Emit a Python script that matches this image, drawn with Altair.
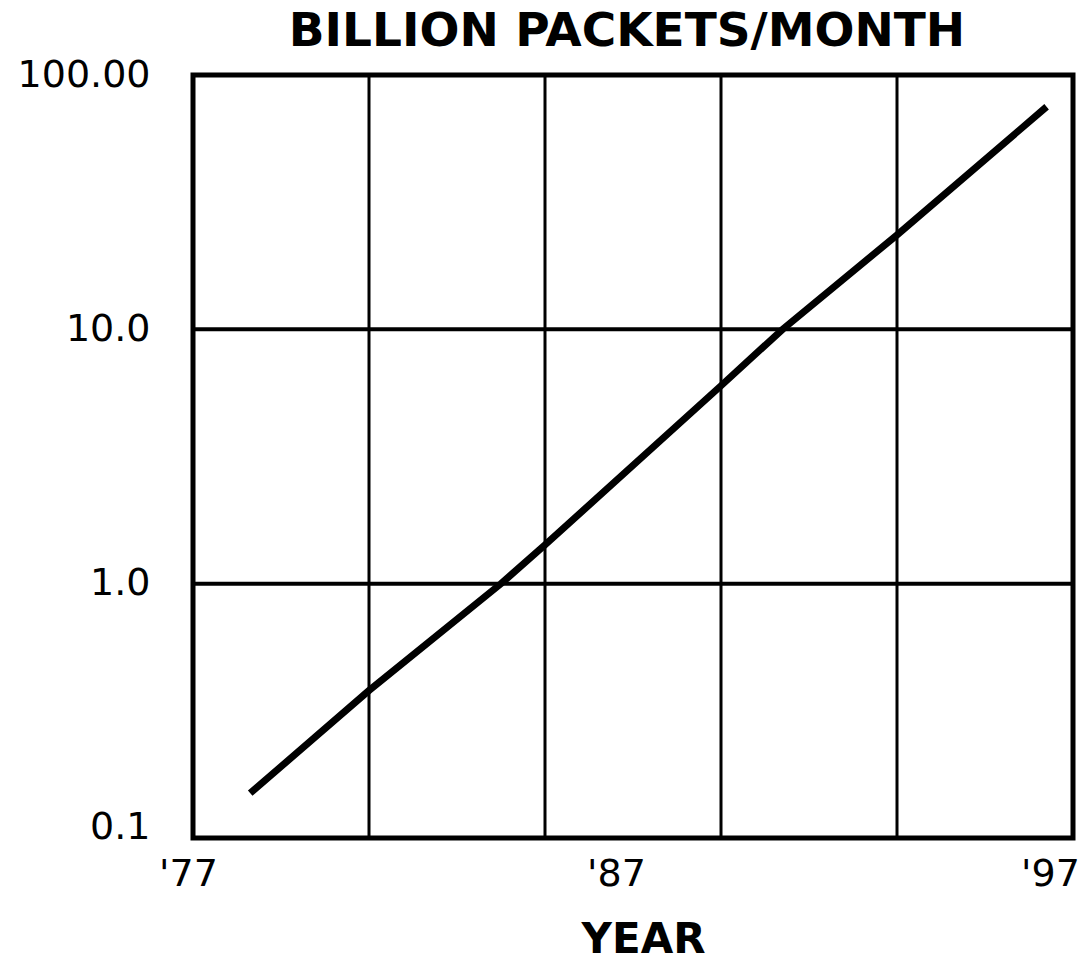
import json

import altair as alt
import pandas as pd

# Monthly packet traffic (billions)
years = [1978.3, 1981, 1984, 1985, 1989, 1990.4, 1993, 1996.4]
packets = [0.15, 0.38, 1.0, 1.42, 6.0, 10.0, 23.5, 75.0]

# Axis labels and grid positions
year_ticks = [1977, 1987, 1997]
year_labels = ["'77", "'87", "'97"]
year_grid = [1981, 1985, 1989, 1993]

packet_ticks = [0.1, 1, 10, 100]
packet_labels = ["0.1", "1.0", "10.0", "100.00"]
packet_grid = [1, 10]

FONT = "DejaVu Sans"


def label_expr(values, labels):
    """Build a Vega expression that maps tick values to fixed label strings."""
    expr = "''"
    for v, lab in zip(values, labels):
        expr = f"datum.value == {v} ? {json.dumps(lab)} : ({expr})"
    return expr


traffic = pd.DataFrame({"year": years, "packets": packets})
vgrid = pd.DataFrame({"year": year_grid})
hgrid = pd.DataFrame({"packets": packet_grid})

x_scale = alt.Scale(domain=[1977, 1997], nice=False, zero=False)
y_scale = alt.Scale(type="log", domain=[0.1, 100], nice=False)

x_axis = alt.Axis(
    values=year_ticks,
    labelExpr=label_expr(year_ticks, year_labels),
    grid=False,
    ticks=False,
    tickSize=0,
    domain=False,
    labelFont=FONT,
    labelFontSize=38,
    labelColor="black",
    labelPadding=17,
    labelFlush=False,
    labelOffset={
        "condition": [
            {"test": "datum.value == 1977", "value": -5},
            {"test": "datum.value == 1997", "value": -23},
        ],
        "value": -17,
    },
    title="YEAR",
    titleFont=FONT,
    titleFontSize=42,
    titleFontWeight="bold",
    titleColor="black",
    titleX=450,
    titleY=114,
    titleBaseline="alphabetic",
)

y_axis = alt.Axis(
    values=packet_ticks,
    labelExpr=label_expr(packet_ticks, packet_labels),
    grid=False,
    ticks=False,
    tickSize=0,
    domain=False,
    labelFont=FONT,
    labelFontSize=38,
    labelColor="black",
    labelPadding=43,
    labelFlush=False,
    labelBaseline={"condition": {"test": "datum.value < 0.5", "value": "alphabetic"}, "value": "middle"},
    title=None,
)

vertical_grid = alt.Chart(vgrid).mark_rule(color="black", strokeWidth=3).encode(
    x=alt.X("year:Q", scale=x_scale, axis=x_axis)
)

horizontal_grid = alt.Chart(hgrid).mark_rule(color="black", strokeWidth=4).encode(
    y=alt.Y("packets:Q", scale=y_scale, axis=y_axis)
)

growth = alt.Chart(traffic).mark_line(color="black", strokeWidth=7, strokeCap="butt").encode(
    x=alt.X("year:Q", scale=x_scale, axis=x_axis),
    y=alt.Y("packets:Q", scale=y_scale, axis=y_axis),
)

chart = (
    alt.layer(vertical_grid, horizontal_grid, growth)
    .properties(
        width=880,
        height=763,
        autosize=alt.AutoSizeParams(type="none"),
        padding={"left": 193, "top": 75, "right": 10, "bottom": 126},
        background="white",
        title=alt.TitleParams(
            "BILLION PACKETS/MONTH",
            font=FONT,
            fontSize=47,
            fontWeight="bold",
            color="black",
            anchor="middle",
            baseline="top",
            offset=0,
            dx=-6,
        ),
    )
    .configure_view(stroke="black", strokeWidth=5)
)

chart.save("out.html", embed_options={"renderer": "svg", "actions": False})
